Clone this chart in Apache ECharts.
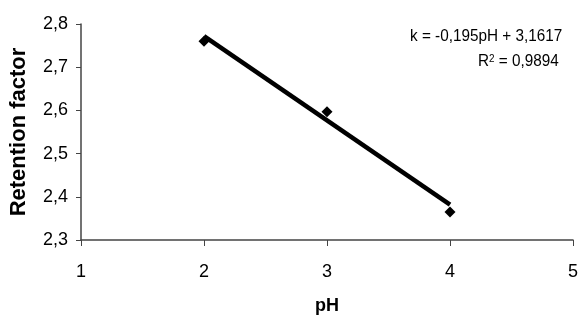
<!DOCTYPE html>
<html>
<head>
<meta charset="utf-8">
<script src="https://cdn.jsdelivr.net/npm/echarts@6/dist/echarts.min.js"></script>
<style>
  html, body { margin: 0; padding: 0; background: #fff; }
  #chart { width: 579px; height: 326px; }
</style>
</head>
<body>
<div id="chart"></div>
<script>
// measured points (pH, retention factor)
const phValues = [2, 3, 4];
const retention = [2.76, 2.597, 2.365];

// fitted line as printed on the chart
const slope = -0.195;
const intercept = 3.1617;
const rSquared = 0.9894;
const fitRange = [2, 4];

const xTicks = { min: 1, max: 5, step: 1 };
const yTicks = { min: 2.3, max: 2.8, step: 0.1 };

const comma = (v, d) => v.toFixed(d).replace('.', ',');

const points = phValues.map((x, i) => [x, retention[i]]);
const fitLine = fitRange.map(x => [x, slope * x + intercept]);

const FONT = 'Liberation Sans, Arial, sans-serif';

const chart = echarts.init(document.getElementById('chart'));
chart.setOption({
  animation: false,
  textStyle: { fontFamily: FONT },
  grid: { left: 81, right: 6, top: 24, bottom: 86, containLabel: false, outerBoundsMode: 'none' },
  xAxis: {
    type: 'value',
    min: xTicks.min, max: xTicks.max, interval: xTicks.step,
    name: 'pH',
    nameLocation: 'middle',
    nameGap: 57,
    nameTextStyle: { fontSize: 18, fontWeight: 'bold', color: '#000' },
    axisLine: { onZero: false, lineStyle: { color: '#444', width: 1.5 } },
    axisTick: { show: true, length: 6, lineStyle: { color: '#444' } },
    axisLabel: { fontSize: 18, color: '#000', margin: 23 },
    splitLine: { show: false }
  },
  yAxis: {
    type: 'value',
    min: yTicks.min, max: yTicks.max, interval: yTicks.step,
    name: 'Retention factor',
    nameLocation: 'middle',
    nameGap: 51,
    nameTextStyle: { fontSize: 22, fontWeight: 'bold', color: '#000' },
    axisLine: { show: true, lineStyle: { color: '#444', width: 1.5 } },
    axisTick: { show: true, length: 5, lineStyle: { color: '#444' } },
    axisLabel: { fontSize: 18, color: '#000', margin: 13, formatter: v => comma(v, 1) },
    splitLine: { show: false }
  },
  graphic: [
    {
      type: 'text', left: 410, top: 28, scaleX: 0.9,
      style: {
        text: 'k = ' + comma(slope, 3) + 'pH + ' + comma(intercept, 4),
        font: '17px ' + FONT, fill: '#000'
      }
    },
    {
      type: 'text', left: 478, top: 53, scaleX: 0.9,
      style: {
        text: '{r|R}{s|2}{r| = ' + comma(rSquared, 4) + '}',
        rich: {
          r: { fontSize: 17, fontFamily: FONT, fill: '#000', verticalAlign: 'bottom' },
          s: { fontSize: 11, fontFamily: FONT, fill: '#000', verticalAlign: 'top' }
        }
      }
    }
  ],
  series: [
    {
      type: 'line',
      data: fitLine,
      symbol: 'none',
      lineStyle: { color: '#000', width: 4.5 },
      z: 2
    },
    {
      type: 'scatter',
      data: points,
      symbol: 'diamond',
      symbolSize: 11,
      itemStyle: { color: '#000', opacity: 1 },
      z: 3
    }
  ]
});
</script>
</body>
</html>
